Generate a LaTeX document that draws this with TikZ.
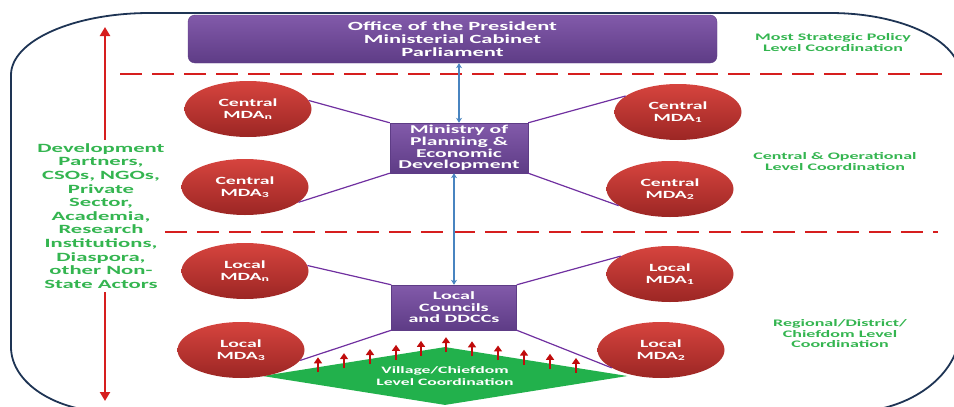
\documentclass[tikz,border=0pt]{standalone}
\usepackage{fontspec}
\newfontfamily\calfont[FakeStretch=1.8]{Carlito}
\usepackage{tikz}
\usetikzlibrary{arrows,arrows.meta,shapes.geometric,positioning}
\definecolor{boxtop}{RGB}{130,90,170}
\definecolor{boxbot}{RGB}{94,60,134}
\definecolor{mdatop}{RGB}{214,68,62}
\definecolor{mdabot}{RGB}{156,38,36}
\definecolor{lvlgreen}{RGB}{52,181,80}
\definecolor{villgreen}{RGB}{34,177,76}
\definecolor{dashred}{RGB}{214,30,30}
\definecolor{linkblue}{RGB}{72,132,192}
\definecolor{linkpurple}{RGB}{112,48,160}
\definecolor{rimblue}{RGB}{30,52,84}
\definecolor{tipred}{RGB}{192,12,12}
\tikzstyle{level}=[text=lvlgreen,align=center,font=\calfont\bfseries\fontsize{10}{11}\selectfont]
\tikzstyle{bigarrow}=[line width=2.8pt,draw=dashred,-{Triangle[length=9pt,width=10pt]}]
\tikzstyle{uparrow}=[line width=2.4pt,draw=tipred,-{Triangle[length=6pt,width=8pt]}]

\begin{document}
\begin{tikzpicture}[
        x=1pt,y=-1pt,
        >=stealth,
        text centered,
        hubbox/.style={rectangle,top color=boxtop,bottom color=boxbot,draw=boxbot,text=white,align=center,inner sep=0},
        mda/.style={ellipse,top color=mdatop,bottom color=mdabot,text=white,align=center,inner sep=0,
          minimum width=127pt,minimum height=56pt,font=\calfont\bfseries\fontsize{11}{12}\selectfont},
        link/.style={draw=linkpurple,line width=1.2pt},
        hub/.style={{Stealth[length=5pt,width=6pt]}-{Stealth[length=5pt,width=6pt]},draw=linkblue,line width=1.8pt},
        sep/.style={draw=dashred,line width=1.6pt,dash pattern=on 22pt off 10pt}
        ]
        \useasboundingbox (0,0) rectangle (954,407);
        \clip (0,0) rectangle (954,407);
        % outer frame
        \draw[rimblue,line width=1.8pt] (111,412) .. controls (55.8,412) and (11,382.9) .. (11,347)
          -- (11,75) .. controls (11,40.8) and (73.3,13) .. (150,13)
          -- (830,13) .. controls (901.8,13) and (960,40.8) .. (960,75)
          -- (960,330) .. controls (960,374.2) and (910.7,412) .. (850,412) -- cycle;
        % level separators
        \draw[sep] (120,74) -- (944,74);
        \draw[sep] (165,232) -- (938,232);

        \node[hubbox,rounded corners=7pt,minimum width=529pt,minimum height=48pt,
          font=\calfont\bfseries\fontsize{12.5}{12.8}\selectfont] (office) at (452.5,39)
          {Office of the President\\Ministerial Cabinet\\Parliament};
        \node[hubbox,minimum width=138pt,minimum height=50pt,
          font=\calfont\bfseries\fontsize{12}{11.7}\selectfont] (ministry) at (459,148)
          {Ministry of\\Planning \&\\Economic\\Development};
        \node[hubbox,minimum width=125pt,minimum height=45pt,
          font=\calfont\bfseries\fontsize{11.2}{11.5}\selectfont] (councils) at (454,307.5)
          {Local\\Councils\\and DDCCs};

        \node[diamond,fill=villgreen,aspect=6.3,minimum width=365pt,minimum height=58pt,inner sep=0,
          text=white,align=center,font=\calfont\bfseries\fontsize{9.8}{12}\selectfont] (village) at (445,376)
          {Village/Chiefdom\\Level Coordination};
        \foreach \x in {318,344,370,396,421,446,472,498,524,550,576}{
          \pgfmathsetmacro\yb{352+abs(\x-445)*0.16}
          \draw[uparrow] (\x,\yb) -- ++(0,-15);
        }

        \node[mda] (cmdan) at (248,109) {Central\\MDA\textsubscript{n}};
        \node[mda] (cmda3) at (245,187) {Central\\MDA\textsubscript{3}};
        \node[mda] (cmda1) at (678,112) {Central\\MDA\textsubscript{1}};
        \node[mda] (cmda2) at (670,189) {Central\\MDA\textsubscript{2}};
        \node[mda] (lmdan) at (245,271) {Local\\MDA\textsubscript{n}};
        \node[mda] (lmda3) at (241,350) {Local\\MDA\textsubscript{3}};
        \node[mda] (lmda1) at (670,274) {Local\\MDA\textsubscript{1}};
        \node[mda] (lmda2) at (661,350) {Local\\MDA\textsubscript{2}};

        \draw[hub] (office.south -| ministry.north) -- (ministry.north);
        \draw[hub] (ministry.south -| councils.north) -- (councils.north);

        \draw[link] (cmdan.8) -- (ministry.north west);
        \draw[link] (cmda3.344) -- (ministry.south west);
        \draw[link] (cmda1.163) -- (ministry.north east);
        \draw[link] (cmda2.198) -- (ministry.south east);
        \draw[link] (lmdan.5) -- (councils.north west);
        \draw[link] (lmda3.350) -- (councils.south west);
        \draw[link] (lmda1.160) -- (councils.north east);
        \draw[link] (lmda2.200) -- (councils.south east);

        % non-state actors
        \node[level,font=\calfont\bfseries\fontsize{12.6}{13.6}\selectfont] (partners) at (101,216)
          {Development\\Partners,\\CSOs, NGOs,\\Private\\Sector,\\Academia,\\Research\\Institutions,\\Diaspora,\\other Non-\\State Actors};
        \coordinate (uptip) at (105,27);
        \coordinate (downtip) at (105,401);
        \draw[bigarrow] (partners.north -| uptip) -- (uptip);
        \draw[bigarrow] (partners.south -| downtip) -- (downtip);

        \node[level] (strategic) at (833,43) {Most Strategic Policy\\Level Coordination};
        \node[level] (operational) at (835,162) {Central \& Operational\\Level Coordination};
        \node[level,font=\calfont\bfseries\fontsize{10}{10.5}\selectfont] (regional) at (840,334)
          {Regional/District/\\Chiefdom Level\\Coordination};
    \end{tikzpicture}
\end{document}
